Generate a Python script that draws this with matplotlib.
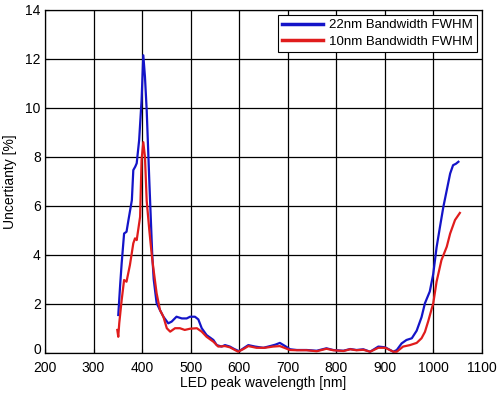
import matplotlib
matplotlib.use("Agg")
import matplotlib.pyplot as plt
import matplotlib.transforms as mtransforms

plt.rcParams['font.family'] = ['Liberation Sans', 'DejaVu Sans']

wl_22 = [351, 355, 358, 363, 368, 372, 379, 382, 386, 389, 394, 399, 402.6, 406, 409.6,
         415, 418, 421, 424, 430, 437, 444, 454, 461, 471, 482, 492, 499, 509, 516, 523,
         533, 547, 554, 564, 571, 581, 590, 600, 609, 619, 633, 650, 664, 675, 684, 695,
         705, 719, 739, 760, 780, 794, 815, 829, 842, 856, 870, 887, 901, 918, 925, 935,
         945, 956, 966, 976, 983, 993, 1000, 1007, 1014, 1021, 1028, 1035, 1041, 1047, 1052]
unc_22 = [1.54, 2.8, 3.65, 4.87, 4.94, 5.42, 6.23, 7.46, 7.6, 7.74, 8.68, 10.3, 12.15, 11.27, 9.9,
          7.0, 5.5, 4.0, 3.0, 2.03, 1.74, 1.47, 1.2, 1.27, 1.47, 1.4, 1.4, 1.47, 1.47, 1.36, 1.0,
          0.72, 0.52, 0.31, 0.25, 0.31, 0.25, 0.15, 0.06, 0.18, 0.31, 0.25, 0.2, 0.27, 0.33, 0.4, 0.27,
          0.14, 0.11, 0.11, 0.08, 0.18, 0.11, 0.08, 0.15, 0.11, 0.14, 0.04, 0.25, 0.22, 0.04, 0.11, 0.38,
          0.52, 0.59, 0.9, 1.45, 2.02, 2.5, 3.2, 4.3, 5.14, 5.96, 6.64, 7.32, 7.66, 7.72, 7.8]

wl_10 = [349, 351, 353, 358, 363, 368, 375, 382, 385.5, 389, 396, 399, 402.6, 406, 409.6,
         415, 420, 423, 430, 437, 444, 451, 458, 468, 478, 488, 499, 513, 523, 533, 547,
         557, 571, 581, 598, 609, 619, 636, 653, 670, 684, 705, 719, 739, 760, 780, 794,
         815, 829, 842, 856, 870, 887, 901, 918, 925, 938, 952, 966, 976, 983, 990, 997,
         1000, 1007, 1017, 1028, 1035, 1045, 1055]
unc_10 = [0.93, 0.65, 1.2, 2.15, 2.97, 2.9, 3.58, 4.47, 4.67, 4.6, 5.55, 7.87, 8.6, 8.0, 6.2,
          5.0, 4.0, 3.5, 2.43, 1.74, 1.47, 1.0, 0.86, 1.0, 1.0, 0.93, 0.98, 1.0, 0.86, 0.65, 0.45,
          0.25, 0.27, 0.22, 0.04, 0.15, 0.27, 0.2, 0.2, 0.25, 0.27, 0.11, 0.1, 0.1, 0.06, 0.16, 0.1,
          0.07, 0.14, 0.1, 0.12, 0.04, 0.2, 0.2, 0.04, 0.04, 0.25, 0.31, 0.4, 0.59, 0.85, 1.3, 1.8,
          2.0, 2.9, 3.78, 4.33, 4.87, 5.42, 5.71]

labels = ['22nm Bandwidth FWHM', '10nm Bandwidth FWHM']
xticks = [200, 300, 400, 500, 600, 700, 800, 900, 1000, 1100]
yticks = [0, 2, 4, 6, 8, 10, 12, 14]

fig = plt.figure(figsize=(5.01, 4.0), dpi=100)
ax = fig.add_axes([45 / 501, 1 - 352.7 / 400, (481.7 - 45) / 501, (352.7 - 10) / 400])

ax.plot(wl_22, unc_22, color='#1414c8', lw=1.6, label=labels[0])
ax.plot(wl_10, unc_10, color='#e01c1c', lw=1.6, label=labels[1])

ax.set_xlim(200, 1100)
ax.set_ylim(0, 14)
ax.set_xticks(xticks)
ax.set_yticks(yticks)
ax.grid(True, color='black', linestyle='-', linewidth=0.9)
ax.set_axisbelow(True)
ax.tick_params(direction='in', length=3, labelsize=10, colors='black')
ax.tick_params(axis='x', pad=6)
ax.tick_params(axis='y', pad=3)
for s in ax.spines.values():
    s.set_linewidth(0.9)
    s.set_color('black')

# nudge the "0" y tick label up slightly so it does not collide with "200"
off = mtransforms.ScaledTranslation(0, 3 / 72, fig.dpi_scale_trans)
ylab0 = ax.get_yticklabels()[0]
ylab0.set_transform(ylab0.get_transform() + off)

ax.set_xlabel('LED peak wavelength [nm]', fontsize=10, labelpad=1)
ax.set_ylabel('Uncertianty [%]', fontsize=10, labelpad=6)

leg = ax.legend(loc='upper right', fontsize=9.5, frameon=True, fancybox=False,
                edgecolor='black', framealpha=1, borderpad=0.35, handlelength=3.1,
                handletextpad=0.4, labelspacing=0.3, borderaxespad=0.35)
leg.get_frame().set_linewidth(0.8)
for line in leg.get_lines():
    line.set_linewidth(2.5)

fig.savefig('out.png', dpi=100)
